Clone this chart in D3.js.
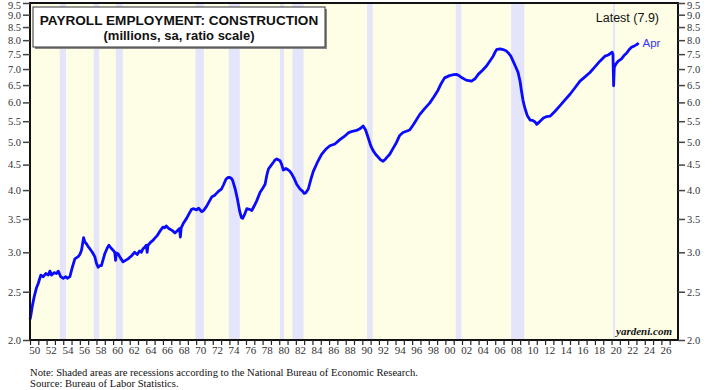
<!DOCTYPE html>
<html><head><meta charset="utf-8">
<script src="https://cdn.jsdelivr.net/npm/d3@7"></script>
<style>
html,body{margin:0;padding:0;background:#fff;}
svg{display:block;}
</style></head>
<body>
<svg id="chart" width="717" height="390"></svg>
<script>
// ---- data ----
const dates = [1950.0,1950.08,1950.3,1950.5,1950.76,1951.0,1951.3,1951.6,1951.9,1952.2,1952.4,1952.6,1952.9,1953.2,1953.4,1953.7,1954.0,1954.3,1954.5,1954.8,
1955.1,1955.4,1955.8,1956.0,1956.2,1956.45,1956.6,1956.8,1957.0,1957.2,1957.5,1957.8,1958.0,1958.2,1958.4,1958.6,1958.8,1959.0,1959.3,1959.5,1959.75,
1960.0,1960.2,1960.3,1960.4,1960.6,1960.9,1961.2,1961.5,1961.8,1962.2,1962.6,1962.9,1963.2,1963.4,1963.6,1963.8,1964.0,1964.1,1964.2,1964.5,1964.8,
1965.0,1965.3,1965.6,1966.0,1966.2,1966.4,1966.7,1967.1,1967.45,1967.7,1968.0,1968.1,1968.2,1968.5,1968.85,1969.2,1969.45,1969.7,1970.05,1970.3,1970.65,1970.9,
1971.25,1971.6,1971.9,1972.2,1972.45,1972.7,1973.05,1973.3,1973.6,1973.85,1974.05,1974.25,1974.4,1974.7,1974.95,1975.25,1975.45,1975.6,1975.85,
1976.1,1976.4,1976.7,1977.0,1977.3,1977.7,1978.0,1978.3,1978.5,1978.7,1979.0,1979.3,1979.5,1979.7,1980.1,1980.3,1980.5,1980.8,1981.1,1981.3,1981.5,1981.8,
1982.1,1982.5,1982.8,1983.0,1983.2,1983.5,1983.8,1984.1,1984.6,1985.1,1985.6,1986.1,1986.7,1987.3,1987.8,1988.3,1988.8,1989.3,1989.7,1990.1,1990.4,1990.7,
1991.0,1991.3,1991.6,1991.9,1992.2,1992.5,1992.8,1993.3,1993.7,1994.1,1994.5,1994.9,1995.3,1995.7,1996.1,1996.5,1996.9,1997.5,1998.1,1998.6,1999.1,1999.5,1999.9,
2000.5,2001.0,2001.3,2001.6,2001.9,2002.5,2003.15,2003.6,2003.95,2004.5,2004.95,2005.4,2005.75,2006.0,2006.2,2006.6,2006.95,2007.3,2007.55,2007.9,
2008.15,2008.5,2008.75,2009.0,2009.15,2009.35,2009.55,2009.85,2010.2,2010.5,2010.8,2011.0,2011.4,2011.8,2012.2,2012.6,2013.2,2013.8,2014.4,2015.0,2015.6,
2016.2,2016.8,2017.4,2018.0,2018.6,2019.2,2019.6,2020.0,2020.08,2020.17,2020.25,2020.33,2020.5,2020.8,2021.2,2021.5,2021.8,2022.1,2022.4,2022.8,2023.1,2023.25];
const values = [2.20,2.23,2.35,2.44,2.54,2.60,2.70,2.68,2.72,2.70,2.75,2.70,2.73,2.72,2.75,2.68,2.66,2.68,2.66,2.68,
2.80,2.91,2.94,2.97,3.03,3.21,3.15,3.12,3.08,3.05,3.00,2.94,2.85,2.80,2.82,2.82,2.90,2.98,3.06,3.10,3.06,
3.03,3.00,2.89,2.99,2.98,2.92,2.87,2.89,2.91,2.95,3.00,2.97,3.02,3.00,3.05,3.07,3.10,3.00,3.10,3.14,3.17,
3.20,3.24,3.30,3.37,3.36,3.39,3.35,3.32,3.28,3.31,3.35,3.22,3.36,3.44,3.51,3.60,3.66,3.67,3.65,3.68,3.62,3.64,
3.71,3.80,3.88,3.90,3.94,3.98,4.02,4.10,4.21,4.24,4.24,4.22,4.18,4.02,3.85,3.62,3.52,3.51,3.58,
3.67,3.66,3.64,3.72,3.81,3.96,4.03,4.11,4.28,4.41,4.48,4.55,4.60,4.62,4.58,4.50,4.39,4.42,4.39,4.36,4.31,4.22,
4.11,4.02,3.98,3.94,3.95,4.02,4.20,4.36,4.55,4.72,4.83,4.91,4.95,5.05,5.12,5.21,5.25,5.27,5.31,5.38,5.28,5.10,
4.92,4.80,4.72,4.66,4.60,4.57,4.62,4.72,4.85,4.98,5.15,5.22,5.25,5.28,5.40,5.53,5.67,5.83,5.98,6.15,6.34,6.55,6.72,
6.79,6.82,6.83,6.80,6.74,6.65,6.62,6.70,6.83,6.97,7.10,7.28,7.43,7.58,7.67,7.68,7.66,7.62,7.55,7.42,
7.26,7.05,6.89,6.60,6.34,6.05,5.86,5.65,5.53,5.52,5.48,5.42,5.50,5.58,5.62,5.63,5.76,5.91,6.07,6.23,6.42,
6.62,6.75,6.89,7.07,7.26,7.43,7.47,7.55,7.57,7.50,6.48,7.05,7.15,7.26,7.34,7.45,7.53,7.65,7.74,7.80,7.85,7.90];
const recessionStarts = [1953.58,1957.67,1960.33,1969.92,1973.92,1980.08,1981.58,1990.58,2001.25,2007.92,2020.17];
const recessionEnds   = [1954.33,1958.33,1961.17,1970.92,1975.25,1980.58,1982.92,1991.25,2001.92,2009.5,2020.33];
const yTicks = [2.0,2.5,3.0,3.5,4.0,4.5,5.0,5.5,6.0,6.5,7.0,7.5,8.0,8.5,9.0,9.5];
const xLabelYears = d3.range(1950, 2027, 2);
const xTickYears = d3.range(1950, 2028, 1);
const titleText = "PAYROLL EMPLOYMENT: CONSTRUCTION";
const subtitleText = "(millions, sa, ratio scale)";
const latestText = "Latest (7.9)";
const lastLabel = "Apr";

// ---- layout ----
const L = 30, R = 678, T = 3, B = 340;
const svg = d3.select("#chart");
const x = d3.scaleLinear().domain([1950, 2028]).range([L, R]);
const y = d3.scaleLog().domain([2, 9.5]).range([B, T]);

svg.append("rect").attr("x", L).attr("y", T).attr("width", R - L).attr("height", B - T).attr("fill", "#fefee6");

svg.append("g").selectAll("rect").data(recessionStarts).join("rect")
  .attr("x", (d) => x(d)).attr("y", T)
  .attr("width", (d, i) => Math.max(2, x(recessionEnds[i]) - x(d)))
  .attr("height", B - T).attr("fill", "#e4e4fa");

// line
const pts = dates.map((d, i) => [d, values[i]]);
svg.append("path").datum(pts)
  .attr("fill", "none").attr("stroke", "#0a0aff").attr("stroke-width", 2.8)
  .attr("stroke-linejoin", "round")
  .attr("d", d3.line().x(d => x(d[0])).y(d => y(d[1])));

// frame
svg.append("rect").attr("x", L).attr("y", T).attr("width", R - L).attr("height", B - T)
  .attr("fill", "none").attr("stroke", "#111").attr("stroke-width", 2);

// axes
const tickFont = "'Liberation Serif','Times New Roman',serif";
const yAxisL = d3.axisLeft(y).tickValues(yTicks).tickFormat(d3.format(".1f")).tickSize(7).tickPadding(2);
const gl = svg.append("g").attr("transform", `translate(${L},0)`).call(yAxisL);
const yAxisR = d3.axisRight(y).tickValues(yTicks).tickFormat(d3.format(".1f")).tickSize(7).tickPadding(2);
const gr = svg.append("g").attr("transform", `translate(${R},0)`).call(yAxisR);
[gl, gr].forEach(g => {
  g.select(".domain").remove();
  g.selectAll("line").attr("stroke", "#444").attr("stroke-width", 1.5);
  g.selectAll("text").attr("font-family", tickFont).attr("font-size", 10.5).attr("fill", "#333");
  g.selectAll(".tick").filter(d => d === 9.5).select("text").attr("dy", "0.5em");
});

const xAxisTicks = d3.axisBottom(x).tickValues(xTickYears).tickFormat("").tickSize(5);
const gx = svg.append("g").attr("transform", `translate(0,${B})`).call(xAxisTicks);
gx.select(".domain").remove();
gx.selectAll("line").attr("stroke", "#222").attr("stroke-width", 1.2);
const xAxisLabels = d3.axisBottom(x).tickValues(xLabelYears.map(v => v + 0.5))
  .tickFormat(d => String(Math.floor(d) % 100).padStart(2, "0")).tickSize(0).tickPadding(6);
const gx2 = svg.append("g").attr("transform", `translate(0,${B})`).call(xAxisLabels);
gx2.select(".domain").remove();
gx2.selectAll("text").attr("font-family", tickFont).attr("font-size", 11).attr("fill", "#333");

// title box
svg.append("rect").attr("x", 35).attr("y", 9).attr("width", 292).attr("height", 40).attr("fill", "#888");
svg.append("rect").attr("x", 33).attr("y", 7).attr("width", 292).attr("height", 40)
  .attr("fill", "#fff").attr("stroke", "#333").attr("stroke-width", 1);
svg.append("text").attr("x", 179).attr("y", 25).attr("text-anchor", "middle")
  .attr("font-family", "'Liberation Sans',Arial,sans-serif").attr("font-weight", "bold").attr("font-size", 13.6)
  .attr("fill", "#111").text(titleText);
svg.append("text").attr("x", 179).attr("y", 40).attr("text-anchor", "middle")
  .attr("font-family", "'Liberation Sans',Arial,sans-serif").attr("font-weight", "bold").attr("font-size", 13)
  .attr("fill", "#111").text(subtitleText);

svg.append("text").attr("x", 659).attr("y", 22).attr("text-anchor", "end")
  .attr("font-family", "'Liberation Sans',Arial,sans-serif").attr("font-size", 12.5)
  .attr("fill", "#111").text(latestText);
svg.append("text").attr("x", x(dates[dates.length - 1]) + 4).attr("y", y(values[values.length - 1]) + 4)
  .attr("font-family", "'Liberation Sans',Arial,sans-serif").attr("font-size", 11.5)
  .attr("fill", "#3333ff").text(lastLabel);

svg.append("text").attr("x", 672).attr("y", 335).attr("text-anchor", "end")
  .attr("font-family", tickFont).attr("font-weight", "bold").attr("font-style", "italic").attr("font-size", 11)
  .attr("fill", "#111").text("yardeni.com");

svg.append("text").attr("x", 30).attr("y", 376)
  .attr("font-family", tickFont).attr("font-size", 10.6).attr("fill", "#111")
  .text("Note: Shaded areas are recessions according to the National Bureau of Economic Research.");
svg.append("text").attr("x", 30).attr("y", 387)
  .attr("font-family", tickFont).attr("font-size", 10.6).attr("fill", "#111")
  .text("Source: Bureau of Labor Statistics.");
</script>
</body></html>
